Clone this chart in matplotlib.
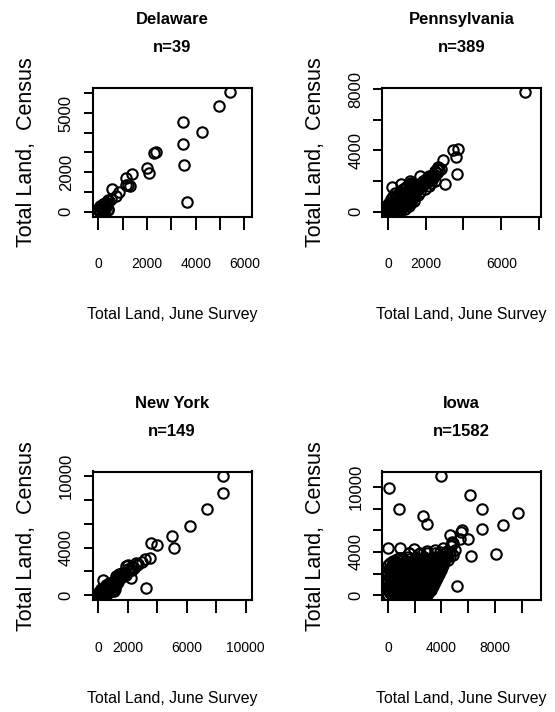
import numpy as np
import matplotlib
matplotlib.use('Agg')
import matplotlib.pyplot as plt
import matplotlib.font_manager as fm

W, H = 555, 712

# the reference text looks like Arial Narrow; fall back to a smaller Arial-like font
installed = {f.name for f in fm.fontManager.ttflist}
if 'Liberation Sans Narrow' in installed:
    NARROW = ['Liberation Sans Narrow', 'DejaVu Sans']
    shrink = 1.0
else:
    NARROW = ['Liberation Sans', 'DejaVu Sans']
    shrink = 0.8
WIDE = ['Liberation Sans', 'DejaVu Sans']

states = ['Delaware', 'Pennsylvania', 'New York', 'Iowa']
counts = [39, 389, 149, 1582]

# Delaware
de_x = [5390, 4970, 3470, 4240, 3470, 3510, 3640, 2360, 2290, 1990, 2060, 1400,
        1120, 1200, 1280, 1120, 570, 830, 720, 410, 270, 180, 80, 0,
        410, 20, 250, 330, 140, 40, 360, 450, 300, 150, 100, 60, 380, 500, 230]
de_y = [6050, 5350, 4540, 4050, 3420, 2360, 490, 3040, 2950, 2230, 1970, 1920,
        1700, 1330, 1300, 1330, 1130, 1010, 790, 590, 460, 370, 290, 150,
        80, 30, 200, 320, 150, 70, 420, 540, 260, 90, 200, 20, 150, 650, 30]

# Pennsylvania
pa_x = [7280, 3700, 3440, 3610, 3680, 2910, 2590, 2500, 3000, 2150, 1710, 210, 700, 1180,
        0, 50, 100, 0, 150, 200, 250, 100, 300, 350,
        200, 400, 450, 300, 500, 550, 400, 600, 650, 500,
        700, 750, 600, 800, 850, 700, 900, 950, 800, 1000,
        1050, 900, 1100, 1150, 1000, 1200, 1250, 1100, 1300, 1350,
        1200, 1400, 1450, 1300, 1500, 1550, 1600, 1650, 1700, 1750,
        1800, 1850, 1900, 1950, 2000, 2050, 2100, 2200, 2300, 2400,
        2500, 2600, 2700, 2650, 2800, 600, 800, 1000, 1250, 1450,
        1700, 1950, 500, 900, 1200, 150, 250, 50, 350, 0,
        700, 1100, 1400, 1600, 2200, 2500, 2300,
        25, 75, 125, 175, 225, 275, 325, 375, 425, 475,
        525, 575, 625, 675, 725, 775, 825, 875, 925, 975,
        1025, 1075, 1125, 1175, 1225, 1275, 1325, 1375, 1425, 1475,
        0, 50, 100, 150, 250, 350, 450, 550, 650, 750]
pa_y = [7790, 4100, 4010, 3580, 2470, 3360, 2800, 2650, 1820, 2320, 2320, 1580, 1780, 2000,
        0, 100, 0, 250, 200, 50, 350, 450, 150, 450,
        600, 300, 550, 750, 400, 650, 900, 500, 800, 1050,
        600, 900, 1200, 700, 1000, 1300, 800, 1100, 1450, 900,
        1200, 1550, 1000, 1300, 1700, 1100, 1400, 1800, 1200, 1500,
        1900, 1300, 1600, 1750, 1400, 1700, 1500, 1800, 1600, 1900,
        1700, 2000, 1800, 2100, 1900, 2200, 2000, 2150, 2300, 2200,
        2400, 2500, 2700, 2900, 2800, 150, 300, 500, 800, 1000,
        1300, 1500, 100, 200, 600, 800, 1000, 600, 1200, 500,
        100, 400, 700, 1100, 1700, 2000, 1900,
        50, 200, 350, 100, 250, 500, 300, 650, 150, 450,
        750, 300, 600, 950, 450, 750, 1150, 550, 900, 1300,
        700, 1050, 1500, 850, 1250, 1600, 1000, 1350, 1150, 1550,
        350, 450, 150, 50, 0, 100, 250, 200, 350, 300]

# New York
ny_x = [8490, 8490, 7380, 6230, 4970, 5150, 3570, 3950, 3500, 3160,
        3230, 2940, 2550, 2440, 1990, 2210, 340, 1200, 1420, 1080,
        1870, 2700, 2300, 2100, 1800, 1700, 1600, 1500, 1400, 1300,
        1250, 1150, 1100, 1000, 950, 900, 850, 800, 750, 700,
        650, 600, 550, 500, 450, 400, 350, 300, 250, 200,
        150, 100, 50, 0, 0, 100, 200, 300, 400, 600,
        800, 1000, 1200, 1300, 1150, 900, 600, 500, 200, 100,
        50, 300, 700, 500, 2000, 1850, 2650, 2300, 1600]
ny_y = [10000, 8560, 7240, 5830, 4990, 4000, 4420, 4200, 3160, 3010,
        620, 2790, 2730, 2310, 2170, 1470, 1270, 1610, 1750, 340,
        2450, 2600, 2400, 2000, 1900, 1650, 1500, 1700, 1400, 1500,
        1250, 1300, 1000, 1150, 900, 1000, 800, 900, 700, 800,
        600, 750, 500, 600, 400, 500, 300, 400, 200, 300,
        100, 200, 50, 0, 150, 0, 100, 150, 250, 350,
        500, 700, 900, 1100, 500, 350, 100, 200, 500, 350,
        250, 600, 1000, 900, 2500, 1700, 2500, 2100, 1900]

# Iowa
ia_x = [3995, 50, 6130, 840, 7000, 9680, 2650, 2950, 8560, 7000, 5560, 5460, 4640,
        6000, 5390, 4890, 0, 870, 1960, 6180, 8040, 4890, 4390, 5140, 3770, 3280,
        420, 920, 1540, 2410, 2900, 3520, 4140, 4760, 5010, 4720, 4270, 4390,
        0, 300, 600, 900, 1200, 1500, 1800, 2100, 2400, 2700, 2950,
        150, 450, 750, 1050, 1350, 1650, 1950, 2250, 2550, 2850, 3100,
        0, 300, 600, 900, 1200, 1500, 1800, 2100, 2400, 2700, 3000, 3250,
        150, 450, 750, 1050, 1350, 1650, 1950, 2250, 2550, 2850, 3150, 3400,
        0, 300, 600, 900, 1200, 1500, 1800, 2100, 2400, 2700, 3000, 3300, 3550,
        150, 450, 750, 1050, 1350, 1650, 1950, 2250, 2550, 2850, 3150, 3450, 3700,
        0, 300, 600, 900, 1200, 1500, 1800, 2100, 2400, 2700, 3000, 3300, 3600, 3850,
        100, 400, 700, 1000, 1300, 1600, 1900, 2200, 2500, 2800, 3100, 3400, 3700, 4000,
        0, 350, 700, 1050, 1400, 1750, 2100, 2450, 2800, 3150, 3500, 3850, 4150,
        400, 900, 1350, 1800, 2200, 2600, 3000, 3400, 3800, 4200, 4450,
        900, 1500, 2100, 2700, 3200, 3650, 4000, 4350, 4600,
        1600, 2300, 2900, 3500, 3900, 4300, 4650,
        150, 450, 750, 1050, 1350, 1650, 1950, 2250, 2550, 2850,
        0, 300, 600, 900, 1200, 1500, 1800, 2100, 2400, 2700, 3000, 3200,
        150, 450, 750, 1050, 1350, 1650, 1950, 2250, 2550, 2850, 3100, 3350,
        0, 300, 600, 900, 1200, 1500, 1800, 2100, 2400, 2700, 3000, 3300, 3500,
        150, 450, 750, 1050, 1350, 1650, 1950, 2250, 2550, 2850, 3150, 3450, 3650,
        0, 300, 600, 900, 1200, 1500, 1800, 2100, 2400, 2700, 3000, 3300, 3550, 3800,
        150, 450, 750, 1050, 1350, 1650, 1950, 2250, 2550, 2850, 3150, 3450, 3750, 3950,
        200, 550, 900, 1250, 1600, 1950, 2300, 2650, 3000, 3350, 3700, 4050,
        150, 600, 1050, 1500, 1950, 2400, 2850, 3300, 3700, 4100,
        650, 1150, 1600, 2000, 2400, 2800, 3200, 3600, 4000, 4300]
ia_y = [10990, 9940, 9260, 7960, 7960, 7590, 7340, 6560, 6530, 6100, 6010, 5850, 5600,
        5170, 5170, 4860, 4370, 4370, 4240, 3620, 3780, 3680, 4090, 840, 1920, 1150,
        2690, 3470, 3930, 3930, 4090, 4180, 4400, 4920, 4180, 4550, 3310, 3620,
        0, 50, 0, 80, 20, 60, 0, 90, 30, 10, 60,
        380, 330, 400, 350, 310, 380, 340, 400, 320, 370, 300,
        720, 680, 750, 700, 660, 730, 690, 760, 700, 650, 720, 680,
        1050, 1100, 1020, 1080, 1000, 1060, 1110, 1030, 1090, 1000, 1060, 990,
        1400, 1450, 1380, 1420, 1470, 1390, 1440, 1360, 1430, 1400, 1460, 1380, 1420,
        1750, 1700, 1780, 1720, 1800, 1740, 1690, 1770, 1730, 1800, 1750, 1700, 1780,
        2100, 2150, 2080, 2120, 2060, 2140, 2090, 2160, 2100, 2050, 2120, 2180, 2090, 2150,
        2450, 2500, 2420, 2480, 2440, 2510, 2460, 2400, 2470, 2530, 2450, 2500, 2440, 2520,
        2800, 2850, 2780, 2830, 2760, 2840, 2800, 2870, 2790, 2850, 2800, 2880, 2820,
        3150, 3200, 3120, 3180, 3220, 3150, 3200, 3130, 3210, 3160, 3250,
        3480, 3550, 3500, 3560, 3480, 3540, 3600, 3520, 3650,
        3900, 3850, 3920, 3880, 3950, 3900, 4000,
        180, 200, 150, 220, 170, 190, 160, 210, 180, 200,
        530, 560, 500, 540, 520, 570, 510, 550, 530, 500, 560, 520,
        880, 900, 860, 910, 870, 890, 850, 920, 880, 860, 900, 870,
        1230, 1250, 1210, 1260, 1220, 1240, 1200, 1270, 1230, 1210, 1250, 1220, 1240,
        1580, 1600, 1560, 1610, 1570, 1590, 1550, 1620, 1580, 1560, 1600, 1570, 1590,
        1930, 1950, 1910, 1960, 1920, 1940, 1900, 1970, 1930, 1910, 1950, 1920, 1940, 1960,
        2280, 2300, 2260, 2310, 2270, 2290, 2250, 2320, 2280, 2260, 2300, 2270, 2290, 2310,
        2630, 2650, 2610, 2660, 2620, 2640, 2600, 2670, 2630, 2610, 2650, 2620,
        2980, 3000, 2960, 3010, 2970, 2990, 2950, 3020, 2980, 3000,
        3330, 3350, 3310, 3360, 3320, 3340, 3300, 3370, 3330, 3350]

# tick positions and which ones get a label
de_ticks = [0, 1000, 2000, 3000, 4000, 5000, 6000]
de_xlabels = ['0', '', '2000', '', '4000', '', '6000']
de_ylabels = ['0', '', '2000', '', '', '5000', '']
pa_ticks = [0, 2000, 4000, 6000, 8000]
pa_xlabels = ['0', '2000', '', '6000', '']
pa_ylabels = ['0', '', '4000', '', '8000']
ny_ticks = [0, 2000, 4000, 6000, 8000, 10000]
ny_xlabels = ['0', '2000', '', '6000', '', '10000']
ny_ylabels = ['0', '', '4000', '', '', '10000']
ia_ticks = [0, 2000, 4000, 6000, 8000, 10000]
ia_xlabels = ['0', '', '4000', '', '8000', '']
ia_ylabels = ['0', '', '4000', '', '', '10000']


def fx(px):
    return px / W


def fy(py):
    return 1 - py / H


def draw_panel(fig, box, name, n, x, y, ticks, xlabels, ylabels):
    left, top, right, bottom = box
    ax = fig.add_axes([fx(left), fy(bottom), (right - left) / W, (bottom - top) / H])
    ax.plot(x, y, 'o', mfc='none', mec='black', ms=7.5, mew=1.5)

    # same range on both axes, padded like R does
    lo = min(min(x), min(y))
    hi = max(max(x), max(y))
    pad = 0.04 * (hi - lo)
    ax.set_xlim(lo - pad, hi + pad)
    ax.set_ylim(lo - pad, hi + pad)

    ax.set_xticks(ticks)
    ax.set_xticklabels(xlabels, fontsize=12.5 * shrink, family=NARROW)
    ax.set_yticks(ticks)
    ax.set_yticklabels(ylabels, fontsize=12, family=WIDE, rotation=90, va='center')
    ax.tick_params(axis='x', length=9.5, width=1.4, pad=20)
    ax.tick_params(axis='y', length=6.5, width=1.4, pad=7)
    for s in ax.spines.values():
        s.set_linewidth(1.5)

    cx = (left + right) / 2
    fig.text(fx(cx), fy(top - 68), name, ha='center', va='center',
             fontsize=15 * shrink, fontweight='bold', family=NARROW)
    fig.text(fx(cx), fy(top - 40.5), 'n=%d' % n, ha='center', va='center',
             fontsize=15 * shrink, fontweight='bold', family=NARROW)
    fig.text(fx(cx), fy(bottom + 98), 'Total Land, June Survey', ha='center',
             va='center', fontsize=14.3 * shrink, family=NARROW)
    fig.text(fx(left - 66), fy((top + bottom) / 2), 'Total Land,  Census',
             rotation=90, ha='center', va='center', fontsize=15.5, family=WIDE)
    return ax


fig = plt.figure(figsize=(W / 100, H / 100), dpi=100)

draw_panel(fig, (92.5, 87.5, 251.5, 216.5), states[0], counts[0], de_x, de_y,
           de_ticks, de_xlabels, de_ylabels)
draw_panel(fig, (382, 87.5, 541, 216.5), states[1], counts[1], pa_x, pa_y,
           pa_ticks, pa_xlabels, pa_ylabels)
draw_panel(fig, (92.5, 471.5, 251.5, 600), states[2], counts[2], ny_x, ny_y,
           ny_ticks, ny_xlabels, ny_ylabels)
draw_panel(fig, (382, 471.5, 541, 600), states[3], counts[3], ia_x, ia_y,
           ia_ticks, ia_xlabels, ia_ylabels)

fig.savefig('out.png', dpi=100)
